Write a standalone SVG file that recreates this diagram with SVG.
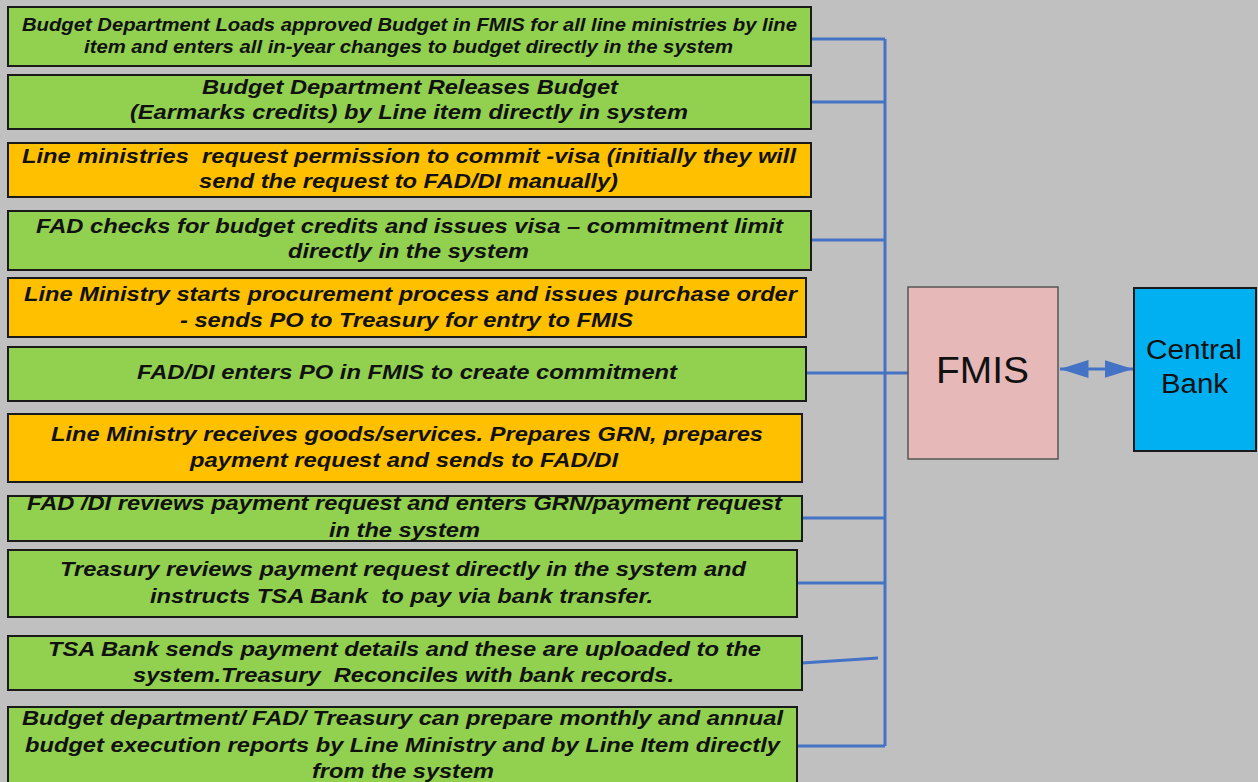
<svg xmlns="http://www.w3.org/2000/svg" width="1258" height="782" viewBox="0 0 1258 782">
<defs>
<style>
.bg{fill:#c0c0c0}
.g{fill:#92d050;stroke:#1a1a1a;stroke-width:2}
.o{fill:#ffc000;stroke:#1a1a1a;stroke-width:2}
.t{font-family:"Liberation Sans",Arial,sans-serif;font-weight:bold;font-style:italic;font-size:21px;fill:#111;text-anchor:middle;white-space:pre}
.t1{font-size:18px}
.c{fill:none;stroke:#4472c4;stroke-width:3}
.n{font-family:"Liberation Sans",Arial,sans-serif;fill:#111;text-anchor:middle}
</style>
<marker id="ah" viewBox="0 0 19 12" refX="19" refY="6" markerWidth="9.5" markerHeight="6" orient="auto-start-reverse" markerUnits="strokeWidth">
<path d="M0,0 L19,6 L0,12 z" fill="#4472c4"/>
</marker>
</defs>
<rect class="bg" x="0" y="0" width="1258" height="782"/>
<g id="connectors">
<path class="c" d="M885,39 V746"/>
<path class="c" d="M811,39 H885 M811,102 H885 M811,240 H885 M806,373 H885 M802,518 H885 M797,583 H885 M797,746 H885"/>
<path class="c" d="M885,373 H908" stroke-width="5"/>
<path class="c" d="M802,663 L878,658" stroke-width="2"/>
<path class="c" d="M1060,369 H1133" stroke-width="2" marker-start="url(#ah)" marker-end="url(#ah)"/>
</g>
<g id="step1"><rect class="g" x="8" y="7" width="803" height="59"/>
<text class="t t1" x="409.5" y="31" textLength="775" lengthAdjust="spacingAndGlyphs">Budget Department Loads approved Budget in FMIS for all line ministries by line</text>
<text class="t t1" x="408.5" y="53" textLength="649" lengthAdjust="spacingAndGlyphs">item and enters all in-year changes to budget directly in the system</text></g>
<g id="step2"><rect class="g" x="8" y="75" width="803" height="54"/>
<text class="t" x="410" y="94" textLength="416" lengthAdjust="spacingAndGlyphs">Budget Department Releases Budget</text>
<text class="t" x="409" y="119" textLength="558" lengthAdjust="spacingAndGlyphs">(Earmarks credits) by Line item directly in system</text></g>
<g id="step3"><rect class="o" x="8" y="143" width="803" height="54"/>
<text class="t" x="409" y="163" textLength="774" lengthAdjust="spacingAndGlyphs" xml:space="preserve">Line ministries  request permission to commit -visa (initially they will</text>
<text class="t" x="408.5" y="188" textLength="419" lengthAdjust="spacingAndGlyphs">send the request to FAD/DI manually)</text></g>
<g id="step4"><rect class="g" x="8" y="211" width="803" height="59"/>
<text class="t" x="409.5" y="233" textLength="747" lengthAdjust="spacingAndGlyphs">FAD checks for budget credits and issues visa – commitment limit</text>
<text class="t" x="408.5" y="258" textLength="241" lengthAdjust="spacingAndGlyphs">directly in the system</text></g>
<g id="step5"><rect class="o" x="8" y="278" width="798" height="59"/>
<text class="t" x="410.5" y="301" textLength="773" lengthAdjust="spacingAndGlyphs">Line Ministry starts procurement process and issues purchase order</text>
<text class="t" x="406.5" y="327" textLength="453" lengthAdjust="spacingAndGlyphs">- sends PO to Treasury for entry to FMIS</text></g>
<g id="step6"><rect class="g" x="8" y="347" width="798" height="54"/>
<text class="t" x="407" y="379" textLength="540" lengthAdjust="spacingAndGlyphs">FAD/DI enters PO in FMIS to create commitment</text></g>
<g id="step7"><rect class="o" x="8" y="414" width="794" height="68"/>
<text class="t" x="407" y="441" textLength="712" lengthAdjust="spacingAndGlyphs">Line Ministry receives goods/services. Prepares GRN, prepares</text>
<text class="t" x="404" y="467" textLength="428" lengthAdjust="spacingAndGlyphs">payment request and sends to FAD/DI</text></g>
<g id="step8"><rect class="g" x="8" y="496" width="794" height="45"/>
<text class="t" x="404.5" y="510" textLength="755" lengthAdjust="spacingAndGlyphs">FAD /DI reviews payment request and enters GRN/payment request</text>
<text class="t" x="404.5" y="537" textLength="151" lengthAdjust="spacingAndGlyphs">in the system</text></g>
<g id="step9"><rect class="g" x="8" y="550" width="789" height="67"/>
<text class="t" x="403" y="576" textLength="686" lengthAdjust="spacingAndGlyphs">Treasury reviews payment request directly in the system and</text>
<text class="t" x="401.5" y="603" textLength="503" lengthAdjust="spacingAndGlyphs" xml:space="preserve">instructs TSA Bank  to pay via bank transfer.</text></g>
<g id="step10"><rect class="g" x="8" y="636" width="794" height="54"/>
<text class="t" x="404.5" y="656" textLength="713" lengthAdjust="spacingAndGlyphs">TSA Bank sends payment details and these are uploaded to the</text>
<text class="t" x="403.5" y="682" textLength="541" lengthAdjust="spacingAndGlyphs" xml:space="preserve">system.Treasury  Reconciles with bank records.</text></g>
<g id="step11"><rect class="g" x="8" y="707" width="789" height="85"/>
<text class="t" x="402.5" y="725" textLength="761" lengthAdjust="spacingAndGlyphs">Budget department/ FAD/ Treasury can prepare monthly and annual</text>
<text class="t" x="402.5" y="752" textLength="755" lengthAdjust="spacingAndGlyphs">budget execution reports by Line Ministry and by Line Item directly</text>
<text class="t" x="403" y="778" textLength="182" lengthAdjust="spacingAndGlyphs">from the system</text></g>
<g id="fmis"><rect x="908" y="287" width="150" height="172" fill="#e6b8b7" stroke="#555" stroke-width="1.5"/>
<text class="n" x="982.5" y="383" font-size="37" textLength="93" lengthAdjust="spacingAndGlyphs">FMIS</text></g>
<g id="centralbank"><rect x="1134" y="288" width="122" height="163" fill="#00b0f0" stroke="#1a1a1a" stroke-width="2"/>
<text class="n" x="1194" y="359" font-size="27" textLength="96" lengthAdjust="spacingAndGlyphs">Central</text>
<text class="n" x="1194.5" y="393" font-size="27" textLength="67" lengthAdjust="spacingAndGlyphs">Bank</text></g>
</svg>
